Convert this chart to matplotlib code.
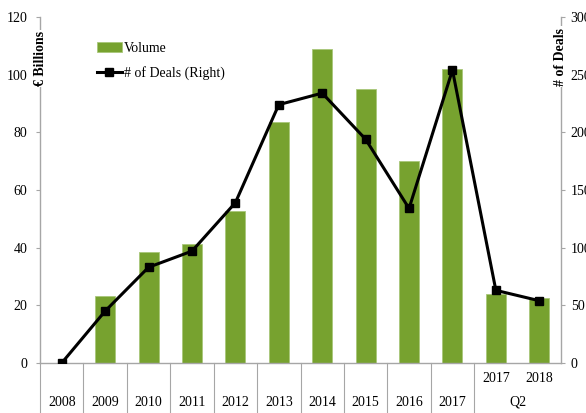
import matplotlib.pyplot as plt
import numpy as np

plt.rcParams['font.family'] = ['Liberation Serif', 'DejaVu Serif']

# data
years = ["2008", "2009", "2010", "2011", "2012", "2013", "2014", "2015", "2016", "2017", "2017", "2018"]
volume = [0, 23.2, 38.4, 41.4, 52.7, 83.7, 108.8, 95.0, 70.2, 101.9, 23.9, 22.5]  # EUR bn
deals = [0, 45, 83, 97, 139, 224, 234, 194, 134, 254, 63, 54]

green = "#77A22F"
axis_grey = "#A6A6A6"

fig = plt.figure(figsize=(5.86, 4.13), dpi=100)
ax = fig.add_axes([40 / 586, 50 / 413, 521 / 586, 346 / 413])
ax2 = ax.twinx()

x = np.arange(len(years))
ax.bar(x, volume, width=0.46, color=green, edgecolor="#A9C77A", linewidth=0.6,
       label="Volume", zorder=2)
ax2.plot(x, deals, color="black", lw=2.2, marker="s", markersize=6,
         label="# of Deals (Right)", zorder=3)

ax.set_xlim(-0.5, len(years) - 0.5)
ax.set_ylim(0, 120)
ax2.set_ylim(0, 300)
ax.set_yticks(range(0, 121, 20))
ax2.set_yticks(range(0, 301, 50))

for a in (ax, ax2):
    for s in a.spines.values():
        s.set_visible(False)
ax.spines["left"].set_visible(True)
ax.spines["bottom"].set_visible(True)
ax2.spines["right"].set_visible(True)
for s in (ax.spines["left"], ax.spines["bottom"], ax2.spines["right"]):
    s.set_color(axis_grey)
    s.set_linewidth(1)

ax.set_xticks([])
ax.tick_params(axis="y", length=3, color=axis_grey, labelsize=10, pad=6)
ax2.tick_params(axis="y", length=3, color=axis_grey, labelsize=10, pad=4)

ax.set_zorder(ax2.get_zorder() - 1)
ax.patch.set_visible(False)
ax2.patch.set_visible(False)

# category table under the axis (no divider inside the Q2 group)
bottom = -50 / 346
for k in range(11):
    ax.plot([k - 0.5, k - 0.5], [0, bottom], transform=ax.get_xaxis_transform(),
            color=axis_grey, lw=0.8, clip_on=False)
for i in range(10):
    ax.text(i, -0.113, years[i], transform=ax.get_xaxis_transform(),
            ha="center", va="center", fontsize=10)
for i in (10, 11):
    ax.text(i, -0.045, years[i], transform=ax.get_xaxis_transform(),
            ha="center", va="center", fontsize=10)
ax.text(10.5, -0.113, "Q2", transform=ax.get_xaxis_transform(),
        ha="center", va="center", fontsize=10)

# axis titles sitting on the spines
ax.text(0, 0.88, "€ Billions", transform=ax.transAxes, rotation=90,
        ha="center", va="center", fontsize=10, fontweight="bold",
        bbox=dict(facecolor="white", edgecolor="none", pad=1))
ax2.text(1, 0.885, "# of Deals", transform=ax2.transAxes, rotation=90,
         ha="center", va="center", fontsize=10, fontweight="bold",
         bbox=dict(facecolor="white", edgecolor="none", pad=1))

h1, l1 = ax.get_legend_handles_labels()
h2, l2 = ax2.get_legend_handles_labels()
ax2.legend(h1 + h2, l1 + l2, loc="upper left", bbox_to_anchor=(0.085, 0.965),
           frameon=False, fontsize=10, handlelength=1.8, handletextpad=0.15,
           labelspacing=0.8)

fig.savefig("out.png", dpi=100)
